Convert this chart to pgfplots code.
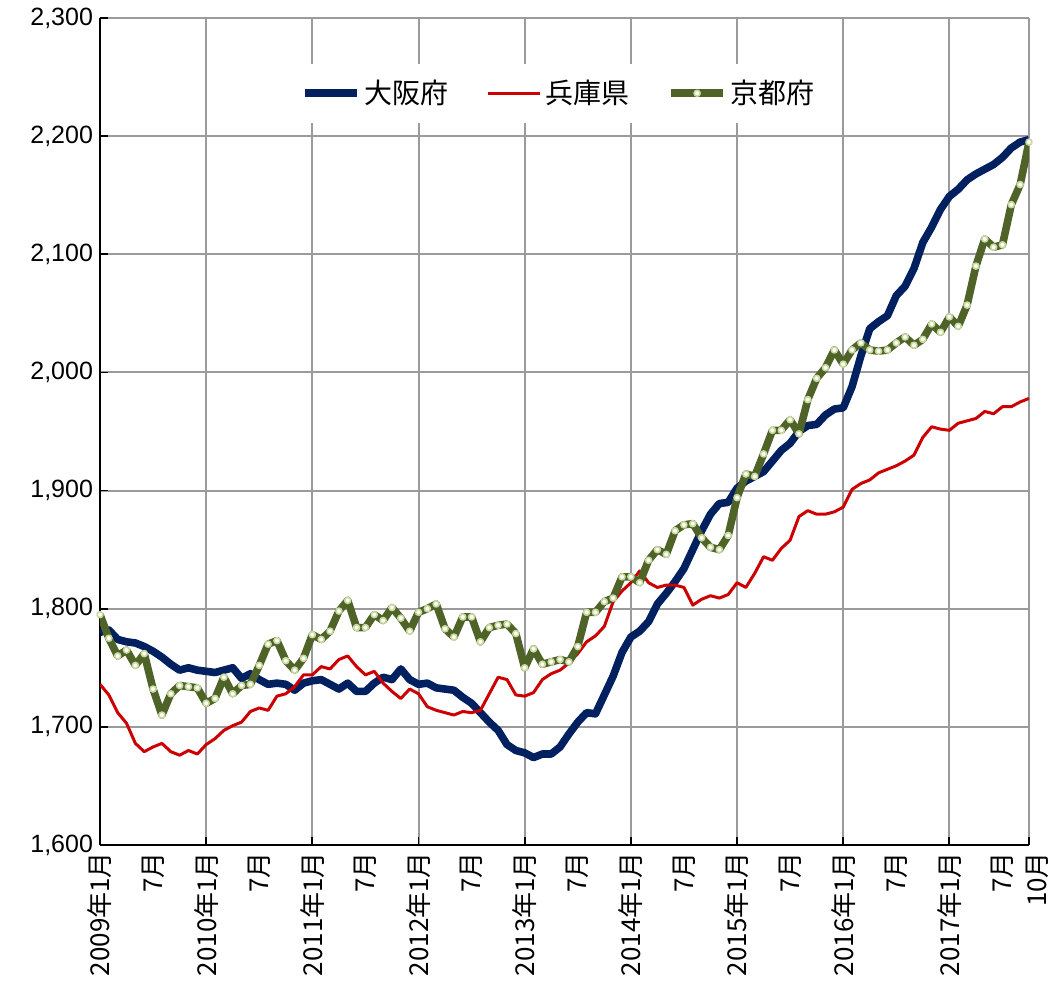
\documentclass[border=0pt]{standalone}
\usepackage{pgfplots}
\pgfplotsset{compat=1.18}
\usepackage{pgfplotstable}
\usepackage{fontspec}
\setmainfont{Liberation Sans}
\newfontfamily\jp{Noto Sans CJK JP}

\definecolor{osaka}{RGB}{0,32,96}
\definecolor{hyogo}{RGB}{204,0,0}
\definecolor{kyoto}{RGB}{79,98,40}
\definecolor{kyotomk}{RGB}{200,218,160}
\definecolor{gridc}{RGB}{155,155,155}

\pgfplotstableread{
i osaka hyogo kyoto
0 1780 1736 1795
1 1782 1727 1775
2 1774 1712 1760
3 1772 1703 1765
4 1771 1686 1752
5 1768 1679 1762
6 1764 1683 1732
7 1759 1686 1710
8 1753 1679 1728
9 1748 1676 1735
10 1750 1680 1734
11 1748 1677 1733
12 1747 1685 1720
13 1746 1690 1724
14 1748 1697 1742
15 1750 1701 1728
16 1741 1704 1735
17 1745 1713 1736
18 1740 1716 1752
19 1736 1714 1770
20 1737 1726 1773
21 1736 1728 1756
22 1731 1734 1748
23 1737 1744 1758
24 1739 1744 1778
25 1740 1751 1774
26 1736 1749 1781
27 1732 1757 1798
28 1737 1760 1807
29 1730 1751 1784
30 1730 1744 1784
31 1737 1747 1795
32 1742 1737 1790
33 1740 1730 1801
34 1749 1724 1792
35 1740 1732 1781
36 1736 1728 1797
37 1737 1717 1800
38 1733 1714 1804
39 1732 1712 1783
40 1731 1710 1776
41 1725 1713 1793
42 1720 1712 1793
43 1712 1714 1772
44 1704 1728 1784
45 1697 1742 1786
46 1685 1740 1787
47 1680 1727 1779
48 1678 1726 1750
49 1674 1729 1766
50 1677 1740 1753
51 1677 1745 1755
52 1683 1748 1757
53 1694 1754 1755
54 1704 1762 1768
55 1712 1772 1797
56 1711 1777 1797
57 1727 1785 1806
58 1743 1806 1809
59 1763 1815 1827
60 1776 1822 1827
61 1781 1832 1822
62 1789 1822 1841
63 1804 1818 1850
64 1813 1820 1846
65 1823 1820 1866
66 1834 1818 1871
67 1850 1803 1872
68 1866 1808 1860
69 1880 1811 1852
70 1889 1809 1850
71 1890 1812 1862
72 1902 1822 1894
73 1908 1818 1914
74 1912 1830 1912
75 1916 1844 1931
76 1925 1841 1951
77 1934 1851 1951
78 1940 1858 1960
79 1950 1878 1948
80 1955 1883 1977
81 1956 1880 1995
82 1964 1880 2004
83 1969 1882 2019
84 1970 1886 2007
85 1988 1901 2019
86 2014 1906 2025
87 2037 1909 2019
88 2043 1915 2018
89 2048 1918 2019
90 2065 1921 2025
91 2073 1925 2030
92 2088 1930 2023
93 2110 1945 2028
94 2123 1954 2041
95 2138 1952 2034
96 2149 1951 2047
97 2155 1957 2039
98 2163 1959 2057
99 2168 1961 2090
100 2172 1967 2113
101 2176 1965 2106
102 2182 1971 2108
103 2190 1971 2142
104 2195 1975 2159
105 2197 1978 2195
}\datatable

\begin{document}
\begin{tikzpicture}
\useasboundingbox (-50pt,-75pt) rectangle (474.5pt,422.5pt);
\begin{axis}[
  at={(0,0)}, anchor=south west,
  scale only axis, width=464.5pt, height=413.5pt,
  xmin=0, xmax=105, ymin=1600, ymax=2300,
  ytick={1600,1700,...,2300},
  xtick={0,12,24,36,48,60,72,84,96,105},
  xticklabels={2009年1月,2010年1月,2011年1月,2012年1月,2013年1月,2014年1月,2015年1月,2016年1月,2017年1月,{\raisebox{-4pt}[\height][\depth]{10月}}},
  extra x ticks={6,18,30,42,54,66,78,90,102},
  extra x tick labels={7月,7月,7月,7月,7月,7月,7月,7月,7月},
  extra x tick style={grid=none, major tick length=0pt},
  grid=major,
  major grid style={gridc, line width=1pt},
  axis x line*=bottom, axis y line*=left,
  axis line style={black, line width=1pt, -},
  tick align=inside, major tick length=4pt,
  tick style={black, line width=0.9pt},
  xticklabel style={font=\jp\fontsize{13}{15}\selectfont, rotate=90, anchor=east},
  yticklabel style={font=\fontsize{12.5}{15}\selectfont,
    /pgf/number format/1000 sep={,}, /pgf/number format/assume math mode=true},
  legend style={at={(0.495,0.909)}, anchor=center, draw=none, fill=white,
    font=\jp\fontsize{14}{16}\selectfont, inner xsep=6pt, inner ysep=6pt,
    /tikz/every even column/.append style={column sep=17pt}},
  legend columns=3,
  legend image code/.code={\draw[mark repeat=2,mark phase=2,#1] plot coordinates {(0pt,0pt) (13pt,0pt) (26pt,0pt)};},
]
\addplot[osaka, line width=3.8pt, line join=round, no markers] table[x=i, y=osaka] {\datatable};
\addlegendentry{大阪府}
\addplot[hyogo, line width=1.5pt, line join=round, no markers] table[x=i, y=hyogo] {\datatable};
\addlegendentry{兵庫県}
\addplot[kyoto, line width=3.8pt, line join=round, mark=*, mark size=1.5pt,
  mark options={fill=white, draw=kyotomk, line width=0.8pt}] table[x=i, y=kyoto] {\datatable};
\addlegendentry{京都府}
\end{axis}
\end{tikzpicture}
\end{document}
